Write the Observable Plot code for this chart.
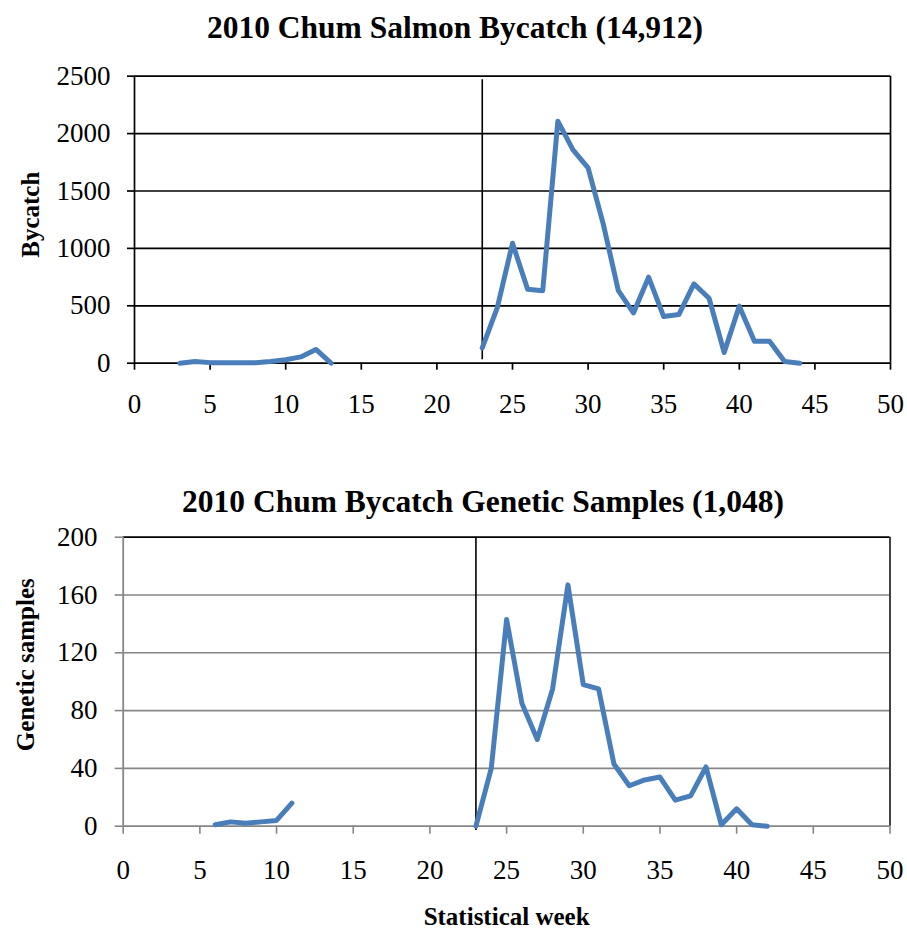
<!DOCTYPE html>
<html>
<head>
<meta charset="utf-8">
<script src="https://cdn.jsdelivr.net/npm/d3@7"></script>
<script src="https://cdn.jsdelivr.net/npm/@observablehq/plot@0.6"></script>
<style>
  html, body { margin: 0; padding: 0; background: white; }
  #wrap { position: relative; width: 907px; height: 929px; background: white; overflow: hidden; }
  .title { position: absolute; transform: translateX(-50%); white-space: nowrap;
           font-family: "Liberation Serif", "Times New Roman", serif; font-weight: bold;
           font-size: 31.5px; line-height: 32px; color: black; }
  .chart { position: absolute; left: 0; }
</style>
</head>
<body>
<div id="wrap">
  <div class="title" id="t1" style="left:455px; top:12px;"></div>
  <div class="chart" id="c1" style="top:55px;"></div>
  <div class="title" id="t2" style="left:483px; top:486px;"></div>
  <div class="chart" id="c2" style="top:520px;"></div>
</div>
<script>
// ---- data ----
const title1 = "2010 Chum Salmon Bycatch (14,912)";
const title2 = "2010 Chum Bycatch Genetic Samples (1,048)";
const yLabel1 = "Bycatch";
const yLabel2 = "Genetic samples";
const xLabel = "Statistical week";

const xTicks = [0, 5, 10, 15, 20, 25, 30, 35, 40, 45, 50];
const yTicks1 = [0, 500, 1000, 1500, 2000, 2500];
const yTicks2 = [0, 40, 80, 120, 160, 200];

const dividerWeek = 23;

// Chum salmon bycatch by statistical week (null = no data)
const bycatchWeeks = [3,4,5,6,7,8,9,10,11,12,13,14,15,16,17,18,19,20,21,22,
  23,24,25,26,27,28,29,30,31,32,33,34,35,36,37,38,39,40,41,42,43,44];
const bycatchValues = [0,15,5,5,5,3,15,30,55,120,0,
  null,null,null,null,null,null,null,null,null,
  133,487,1045,644,632,2108,1858,1701,1214,632,438,749,406,424,691,566,93,497,192,192,15,0];

// Genetic samples by statistical week (null = no data)
const geneticWeeks = [6,7,8,9,10,11,12,13,14,15,16,17,18,19,20,21,22,
  23,24,25,26,27,28,29,30,31,32,33,34,35,36,37,38,39,40,41,42];
const geneticValues = [1,3,2,3,4,16,
  null,null,null,null,null,null,null,null,null,null,null,
  0,40,143,85,60,95,167,98,95,43,28,32,34,18,21,41,1,12,1,0];

// ---- drawing ----
const FONT = "'Liberation Serif', 'Times New Roman', serif";
const BLUE = "#4a7ebb";
const GRAY = "#868686";
const fmt = d3.format("d");

document.getElementById("t1").textContent = title1;
document.getElementById("t2").textContent = title2;

const chart1 = Plot.plot({
  width: 907, height: 380,
  marginTop: 20.7, marginBottom: 72.3, marginLeft: 134, marginRight: 17,
  x: {domain: [0, 50]},
  y: {domain: [0, 2500]},
  style: {fontFamily: FONT, fontSize: "27px", color: "black", background: "transparent", overflow: "visible"},
  marks: [
    Plot.gridY(yTicks1.filter(d => d > 0), {stroke: "black", strokeOpacity: 1, strokeWidth: 1.7}),
    Plot.ruleX([50], {stroke: "black", strokeWidth: 1.7}),
    Plot.ruleX([0], {stroke: "black", strokeWidth: 1.7}),
    Plot.ruleY([0], {stroke: "black", strokeWidth: 1.7}),
    Plot.axisY(yTicks1, {tickSize: 7, tickPadding: 17, tickFormat: fmt, label: null, stroke: "black", strokeWidth: 1.7}),
    Plot.axisX(xTicks, {tickSize: 7, tickPadding: 24, tickFormat: fmt, label: null, stroke: "black", strokeWidth: 1.7}),
    Plot.ruleX([dividerWeek], {y1: 30, y2: 2470, stroke: "black", strokeWidth: 1.6}),
    Plot.line(bycatchValues, {x: bycatchWeeks, y: bycatchValues, stroke: BLUE, strokeWidth: 5, strokeLinejoin: "round", strokeLinecap: "round"}),
    Plot.text([yLabel1], {text: d => d, frameAnchor: "left", rotate: -90, dx: -104, dy: -5,
      fontSize: 25, fontWeight: "bold", textAnchor: "middle", lineAnchor: "middle"})
  ]
});
document.getElementById("c1").appendChild(chart1);

const chart2 = Plot.plot({
  width: 907, height: 409,
  marginTop: 16.7, marginBottom: 103.3, marginLeft: 122.7, marginRight: 17.5,
  x: {domain: [0, 50]},
  y: {domain: [0, 200]},
  style: {fontFamily: FONT, fontSize: "27px", color: "black", background: "transparent", overflow: "visible"},
  marks: [
    Plot.gridY(yTicks2.filter(d => d > 0 && d < 200), {stroke: GRAY, strokeOpacity: 1, strokeWidth: 1.6}),
    Plot.ruleY([200], {stroke: "black", strokeWidth: 1.7}),
    Plot.ruleX([50], {stroke: "#222", strokeWidth: 1.7}),
    Plot.ruleX([0], {stroke: GRAY, strokeWidth: 1.8}),
    Plot.ruleY([0], {stroke: GRAY, strokeWidth: 1.8}),
    Plot.axisY(yTicks2, {tickSize: 8, tickPadding: 17.7, tickFormat: fmt, label: null, stroke: GRAY, strokeWidth: 1.6}),
    Plot.axisX(xTicks, {tickSize: 8, tickPadding: 26, tickFormat: fmt, label: null, stroke: GRAY, strokeWidth: 1.6}),
    Plot.ruleX([dividerWeek], {y1: -3, y2: 200, stroke: "black", strokeWidth: 1.6}),
    Plot.line(geneticValues, {x: geneticWeeks, y: geneticValues, stroke: BLUE, strokeWidth: 5, strokeLinejoin: "round", strokeLinecap: "round"}),
    Plot.text([yLabel2], {text: d => d, frameAnchor: "left", rotate: -90, dx: -97, dy: -17,
      fontSize: 25, fontWeight: "bold", textAnchor: "middle", lineAnchor: "middle"}),
    Plot.text([xLabel], {text: d => d, frameAnchor: "bottom", dy: 91,
      fontSize: 25, fontWeight: "bold", textAnchor: "middle", lineAnchor: "middle"})
  ]
});
document.getElementById("c2").appendChild(chart2);
</script>
</body>
</html>
